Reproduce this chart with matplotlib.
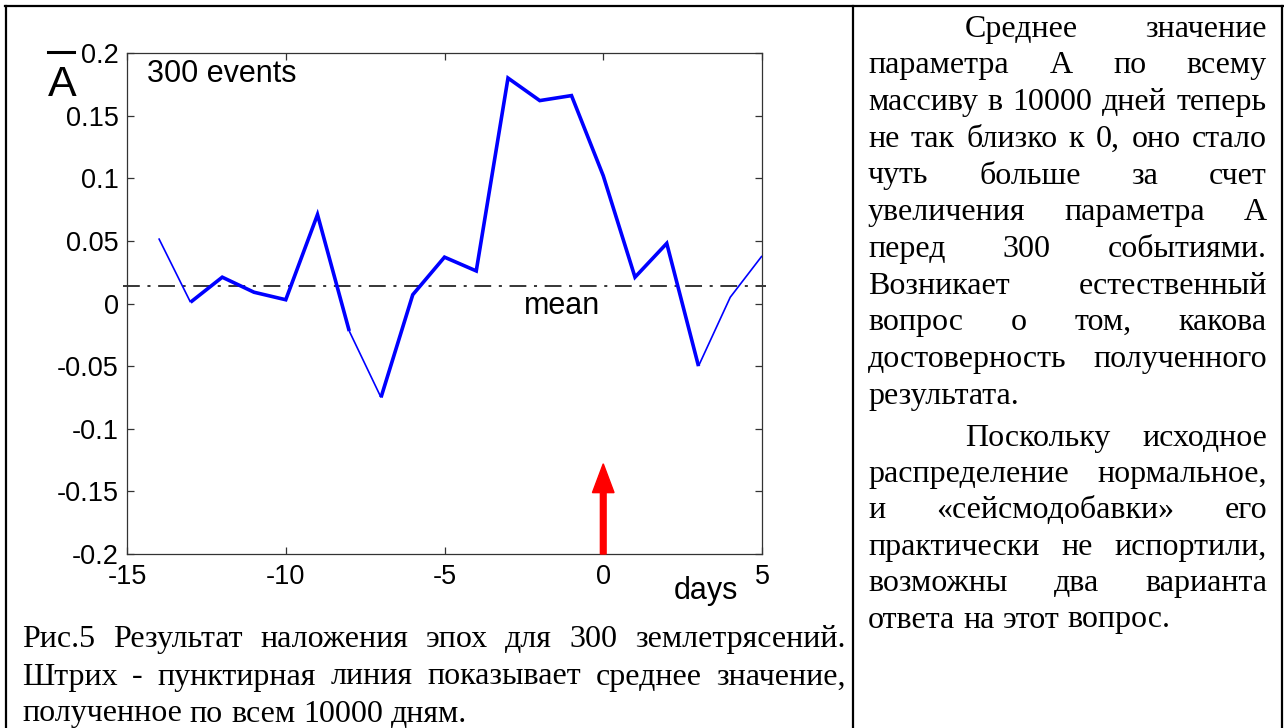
import numpy as np
import matplotlib.pyplot as plt
from matplotlib.lines import Line2D

plt.rcParams['font.family'] = ['Liberation Sans', 'DejaVu Sans']
SERIF = ['Liberation Serif', 'DejaVu Serif']

# superposed-epoch curve: mean A by day relative to the event
days = np.arange(-14, 6)
A_mean = [0.052, 0.001, 0.021, 0.009, 0.003, 0.071, -0.022, -0.075, 0.007, 0.037,
          0.026, 0.180, 0.162, 0.166, 0.102, 0.021, 0.048, -0.050, 0.005, 0.038]
# which segments are drawn heavy
heavy = [False] + [True] * 5 + [False] + [True] * 10 + [False] * 2
mean_level = 0.014
event_day = 0
arrow_top = -0.128

xticks = [-15, -10, -5, 0, 5]
yticks = [-0.2, -0.15, -0.1, -0.05, 0, 0.05, 0.1, 0.15, 0.2]
ytick_labels = ['-0.2', '-0.15', '-0.1', '-0.05', '0', '0.05', '0.1', '0.15', '0.2']

caption = [
    "Рис.5 Результат наложения эпох для 300 землетрясений.",
    "Штрих - пунктирная линия показывает среднее значение,",
    "полученное по всем 10000 дням.",
]
para1 = [
    "Среднее значение",
    "параметра А по всему",
    "массиву в 10000 дней теперь",
    "не так близко к 0, оно стало",
    "чуть больше за счет",
    "увеличения параметра А",
    "перед 300 событиями.",
    "Возникает естественный",
    "вопрос о том, какова",
    "достоверность полученного",
    "результата.",
]
para2 = [
    "Поскольку исходное",
    "распределение нормальное,",
    "и «сейсмодобавки» его",
    "практически не испортили,",
    "возможны два варианта",
    "ответа на этот вопрос.",
]

W, H = 1284, 728
fig = plt.figure(figsize=(W / 100, H / 100), dpi=100)
fig.patch.set_facecolor('white')


def fx(x):
    return x / W


def fy(y):
    return 1 - y / H


# page table borders
for xs, ys in [((4.5, 1284), (5.7, 5.7)), ((5.7, 5.7), (5.7, 728)),
               ((852.7, 852.7), (5.7, 728)), ((1282, 1282), (5.7, 728))]:
    fig.add_artist(Line2D([fx(x) for x in xs], [fy(y) for y in ys],
                          transform=fig.transFigure, color='black', lw=1.6))

ax = fig.add_axes([fx(127), fy(554), 635 / W, 501 / H])
ax.set_xlim(-15, 5)
ax.set_ylim(-0.2, 0.2)

# blue curve, split into runs of equal weight
start = 0
for i in range(1, len(heavy) + 1):
    if i == len(heavy) or heavy[i] != heavy[start]:
        ax.plot(days[start:i + 1], A_mean[start:i + 1], color='#0000ff',
                lw=2.6 if heavy[start] else 1.2, solid_joinstyle='miter',
                solid_capstyle='butt', zorder=3)
        start = i

ax.axhline(mean_level, xmin=-0.006, xmax=1.006, clip_on=False, color='black',
           lw=1.1, dashes=(11, 5, 2, 5), zorder=2)
ax.text(-1.3, -0.008, 'mean', fontsize=22, ha='center', va='baseline')
ax.text(0.031, 0.9427, '300 events', fontsize=22, transform=ax.transAxes,
        ha='left', va='baseline')
ax.text(0.912, -0.09, 'days', fontsize=22, transform=ax.transAxes,
        ha='center', va='baseline', clip_on=False)

ax.arrow(event_day, -0.2, 0, arrow_top + 0.2, width=0.18, head_width=0.68,
         head_length=0.023, length_includes_head=True, color='#ff0000',
         zorder=5, clip_on=False)

ax.set_xticks(xticks)
ax.set_xticklabels([str(t) for t in xticks])
ax.set_yticks(yticks)
ax.set_yticklabels(ytick_labels)
ax.tick_params(direction='in', length=5, width=0.9, color='#333333',
               top=True, right=True, labelsize=19.5)
ax.tick_params(axis='y', pad=5.8)
ax.tick_params(axis='x', pad=7)
for s in ax.spines.values():
    s.set_color('#333333')
    s.set_linewidth(0.9)

# y-axis label: A with an overbar
fig.text(fx(62), fy(96), 'A', fontsize=31, ha='center', va='baseline')
fig.add_artist(Line2D([fx(47.7), fx(74)], [fy(51.7), fy(51.7)],
                      transform=fig.transFigure, color='black', lw=2.2))

renderer = fig.canvas.get_renderer()
TEXT_SIZE = 23


def put_line(text, xl, xr, yb, justify=True):
    words = text.split()
    arts = [fig.text(0, fy(yb), w, fontsize=TEXT_SIZE, family=SERIF,
                     ha='left', va='baseline') for w in words]
    widths = [a.get_window_extent(renderer).width for a in arts]
    if justify and len(words) > 1:
        gap = (xr - xl - sum(widths)) / (len(words) - 1)
    else:
        gap = TEXT_SIZE * 0.25 * 100 / 72
    x = xl
    for a, w in zip(arts, widths):
        a.set_x(fx(x))
        x += w + gap


# caption under the chart
cap_base = [646.7, 684.5, 721.5]
for i, line in enumerate(caption):
    put_line(line, 22, 846, cap_base[i], justify=(i < len(caption) - 1))

# right column, two justified paragraphs with first-line indent
for i, line in enumerate(para1):
    xl = 965 if i == 0 else 868
    put_line(line, xl, 1267, 36.7 + 36.7 * i, justify=(i < len(para1) - 1))
for i, line in enumerate(para2):
    xl = 965 if i == 0 else 868
    put_line(line, xl, 1267, 445.5 + 36.4 * i, justify=(i < len(para2) - 1))

fig.savefig('out.png', dpi=100, facecolor='white')
